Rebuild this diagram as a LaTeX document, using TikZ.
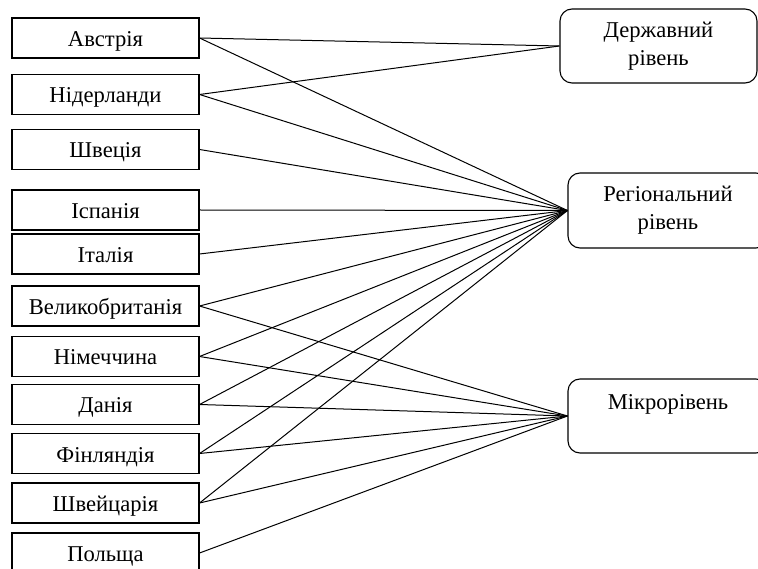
\documentclass[tikz,border=0pt]{standalone}
\usepackage{fontspec}
\setmainfont{Liberation Serif}

\begin{document}
\begin{tikzpicture}[x=1pt,y=-1pt,
  font=\fontsize{22.6}{28}\selectfont,
  country/.style={draw, line width=1.1pt, minimum width=187pt, minimum height=40pt, inner sep=0pt, text height=17pt, text depth=0pt},
  level/.style={draw, line width=1.1pt, rounded corners=12pt, minimum width=200pt, minimum height=75pt, inner sep=0pt, align=center},
  link/.style={line width=1pt}]

\useasboundingbox (0,0) rectangle (758,569);
\clip (0,0) rectangle (758,569);

% Countries
\foreach \id/\y/\txt in {at/38/Австрія, nl/94.5/Нідерланди, se/149.5/Швеція,
  es/210/Іспанія, it/254/Італія, uk/306/Великобританія, de/356.5/Німеччина,
  dk/404.5/Данія, fi/453.5/Фінляндія, ch/503/Швейцарія, pl/553/Польща}
{
\node[country] (\id) at (105.5,\y) {\txt};
}

% Levels
\node[level, minimum width=197pt, minimum height=74pt] (state) at (658.5,46) {Державний\\рівень};
\node[level] (reg) at (668,210.5) {Регіональний\\рівень};
\node[level, minimum height=74pt] (micro) at (668,416) {Мікрорівень\\~};

% Links
\foreach \c in {at,nl}
{
\draw[link] (\c.east) -- (state.west);
}
\foreach \c in {at,nl,se,es,it,uk,de,dk,fi,ch}
{
\draw[link] (\c.east) -- (reg.west);
}
\foreach \c in {uk,de,dk,fi,ch,pl}
{
\draw[link] (\c.east) -- (micro.west);
}

\end{tikzpicture}
\end{document}
